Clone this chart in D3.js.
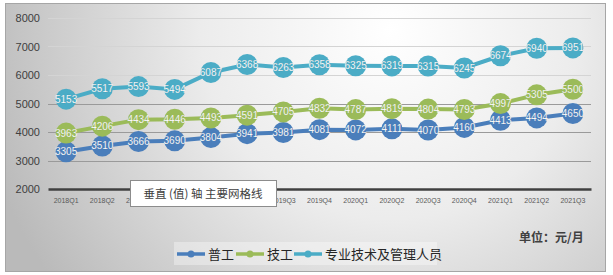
<!DOCTYPE html>
<html>
<head>
<meta charset="utf-8">
<script src="https://cdn.jsdelivr.net/npm/d3@7"></script>
<style>
  body { margin: 0; background: #fff; }
  svg { display: block; font-family: "Liberation Sans", "Noto Sans CJK SC", sans-serif; }
</style>
</head>
<body>
<svg id="chart" width="613" height="275"></svg>
<script>
// quarters on the x axis
const quarters = ["2018Q1","2018Q2","2018Q3","2018Q4","2019Q1","2019Q2","2019Q3","2019Q4",
                  "2020Q1","2020Q2","2020Q3","2020Q4","2021Q1","2021Q2","2021Q3"];
const seriesNames = ["普工", "技工", "专业技术及管理人员"];
const pugong  = [3305,3510,3666,3690,3804,3941,3981,4081,4072,4111,4070,4160,4413,4494,4650];
const jigong  = [3963,4206,4434,4446,4493,4591,4705,4832,4787,4819,4804,4793,4997,5305,5500];
const zhuanye = [5153,5517,5593,5494,6087,6368,6263,6358,6325,6319,6315,6245,6674,6940,6951];
const yTicks = [2000,3000,4000,5000,6000,7000,8000];
const colors = ["#4a7ebb", "#9bbb59", "#4bacc6"];

const svg = d3.select("#chart");

// background: radial grey gradient inside a thin frame
let defs = svg.append("defs");
let grad = defs.append("radialGradient")
    .attr("id", "bg")
    .attr("gradientUnits", "userSpaceOnUse")
    .attr("cx", 390).attr("cy", 30).attr("r", 420);
grad.append("stop").attr("offset", "0%").attr("stop-color", "#ffffff");
grad.append("stop").attr("offset", "45%").attr("stop-color", "#ececec");
grad.append("stop").attr("offset", "100%").attr("stop-color", "#bababa");

svg.append("rect")
    .attr("x", 5.5).attr("y", 3.5).attr("width", 600).attr("height", 268)
    .attr("fill", "url(#bg)")
    .attr("stroke", "#a6a6a6");

const x = d3.scaleBand().domain(quarters).range([48, 591]);
const y = d3.scaleLinear().domain([2000, 8000]).range([189, 18]);

// gridlines
svg.append("g")
    .selectAll("line")
    .data(yTicks.slice(1))
    .join("line")
    .attr("x1", 48).attr("x2", 591)
    .attr("y1", d => Math.round(y(d)) + 0.5)
    .attr("y2", d => Math.round(y(d)) + 0.5)
    .attr("stroke", d => d >= 6000 ? "#d4d4d4" : "#9a9a9a")
    .attr("stroke-width", 1);

// y axis labels
let yAxis = svg.append("g")
    .attr("transform", "translate(48,0)")
    .call(d3.axisLeft(y).tickValues(yTicks).tickFormat(d3.format("d")).tickSize(0).tickPadding(8));
yAxis.select(".domain").remove();
yAxis.selectAll("text")
    .attr("font-size", 11)
    .attr("fill", "#404040");

// category axis
let xAxis = svg.append("g")
    .attr("transform", "translate(0," + y(2000) + ")")
    .call(d3.axisBottom(x).tickSize(0).tickPadding(9));
xAxis.select(".domain")
    .attr("stroke", "#404040")
    .attr("stroke-width", 2.5);
xAxis.selectAll("text")
    .attr("font-size", 7)
    .attr("fill", "#595959");

// series lines, markers, labels
const allSeries = [pugong, jigong, zhuanye];
let line = d3.line()
    .x((d, i) => x(quarters[i]) + x.bandwidth() / 2)
    .y(d => y(d));

allSeries.forEach((vals, s) => {
    let g = svg.append("g");
    g.append("path")
        .datum(vals)
        .attr("d", line)
        .attr("fill", "none")
        .attr("stroke", colors[s])
        .attr("stroke-width", 4);
    g.selectAll("circle")
        .data(vals)
        .join("circle")
        .attr("cx", (d, i) => x(quarters[i]) + x.bandwidth() / 2)
        .attr("cy", d => y(d))
        .attr("r", 10.5)
        .attr("fill", colors[s]);
});

allSeries.forEach((vals, s) => {
    svg.append("g")
        .selectAll("text")
        .data(vals)
        .join("text")
        .attr("x", (d, i) => x(quarters[i]) + x.bandwidth() / 2)
        .attr("y", d => y(d) + 3.5)
        .attr("text-anchor", "middle")
        .attr("font-size", 10)
        .attr("fill", "#ffffff")
        .attr("stroke", "rgba(0,0,0,0.12)")
        .attr("stroke-width", 0.4)
        .text(d => d);
});

// legend
let legend = svg.append("g");
legend.append("rect")
    .attr("x", 174).attr("y", 242).attr("width", 263).attr("height", 23)
    .attr("fill", "#ffffff").attr("fill-opacity", 0.35);
const legendX = [177, 236, 294];
seriesNames.forEach((name, s) => {
    let lg = legend.append("g").attr("transform", "translate(" + legendX[s] + ",254)");
    lg.append("line")
        .attr("x1", 0).attr("x2", 28)
        .attr("stroke", colors[s]).attr("stroke-width", 3.5);
    lg.append("circle").attr("cx", 14).attr("r", 3.5).attr("fill", colors[s]);
    lg.append("text")
        .attr("x", 31).attr("y", 5)
        .attr("font-size", 13)
        .attr("font-family", "Noto Sans CJK SC")
        .attr("fill", "#262626")
        .text(name);
});

// unit note
svg.append("text")
    .attr("x", 519).attr("y", 242)
    .attr("font-size", 12)
    .attr("font-weight", "bold")
    .attr("font-family", "Noto Sans CJK SC")
    .attr("fill", "#404040")
    .text("单位：元/月");

// hover tooltip seen in the screenshot
let tip = svg.append("g");
tip.append("rect")
    .attr("x", 130.5).attr("y", 180.5).attr("width", 146).attr("height", 26)
    .attr("fill", "#ffffff").attr("stroke", "#8c8c8c");
tip.append("text")
    .attr("x", 203).attr("y", 198)
    .attr("text-anchor", "middle")
    .attr("font-size", 11.5)
    .attr("font-family", "Noto Sans CJK SC")
    .attr("fill", "#404040")
    .text("垂直 (值) 轴 主要网格线");
</script>
</body>
</html>
